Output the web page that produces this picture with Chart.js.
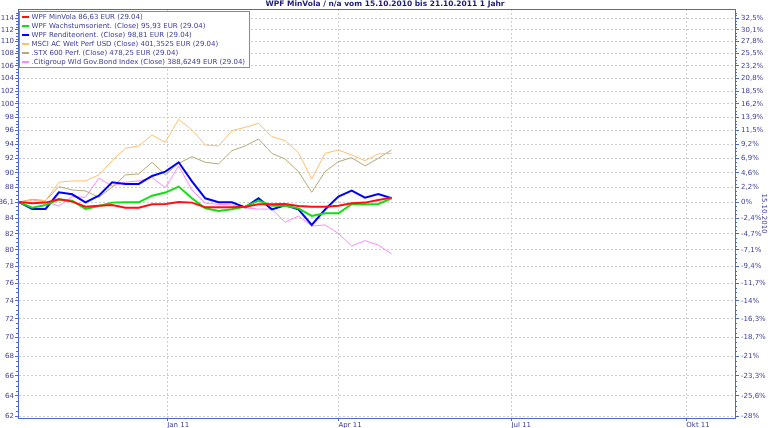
<!DOCTYPE html>
<html lang="de">
<head>
<meta charset="UTF-8">
<title>WPF MinVola</title>
<script src="https://cdn.jsdelivr.net/npm/chart.js@4.4.0/dist/chart.umd.min.js"></script>
<style>
  html, body { margin: 0; padding: 0; background: #fff; }
  #wrap { width: 770px; height: 428px; }
</style>
</head>
<body>
<div id="wrap"><canvas id="chart" width="770" height="428"></canvas></div>
<script>
// weekly closing dates (Fridays)
const startDate = '2010-10-15';
const weeks = [
  '2010-10-15', '2010-10-22', '2010-10-29', '2010-11-05', '2010-11-12', '2010-11-19',
  '2010-11-26', '2010-12-03', '2010-12-10', '2010-12-17', '2010-12-24', '2010-12-31',
  '2011-01-07', '2011-01-14', '2011-01-21', '2011-01-28', '2011-02-04', '2011-02-11',
  '2011-02-18', '2011-02-25', '2011-03-04', '2011-03-11', '2011-03-18', '2011-03-25',
  '2011-04-01', '2011-04-08', '2011-04-15', '2011-04-22', '2011-04-29'
];

// all series indexed to the first value (86,07)
const minVola = [86.07, 85.91, 86.0, 86.44, 86.13, 85.47, 85.6, 85.69, 85.34, 85.34, 85.78, 85.82, 86.09, 86.0, 85.38,
  85.38, 85.38, 85.47, 85.78, 85.78, 85.82, 85.56, 85.47, 85.47, 85.6, 85.91, 86.0, 86.35, 86.66];
const wachstum = [86.07, 85.34, 85.69, 86.44, 86.26, 85.17, 85.56, 86.0, 86.04, 86.04, 86.92, 87.33, 88.13, 86.57, 85.25,
  84.91, 85.12, 85.47, 86.26, 85.6, 85.6, 85.25, 84.26, 84.6, 84.6, 85.78, 85.78, 85.82, 86.57];
const rendite = [86.07, 85.17, 85.17, 87.37, 87.1, 86.04, 86.92, 88.72, 88.49, 88.49, 89.58, 90.18, 91.47, 88.85, 86.57,
  86.04, 86.04, 85.38, 86.57, 85.12, 85.65, 85.12, 83.11, 85.1, 86.79, 87.59, 86.66, 87.15, 86.57];
const msciWelt = [86.07, 86.35, 86.26, 88.72, 88.9, 88.9, 89.72, 91.7, 93.45, 93.78, 95.37, 94.31, 97.69, 96.1, 93.93,
  93.78, 96.0, 96.5, 97.09, 95.13, 94.55, 92.83, 89.17, 92.73, 93.21, 92.5, 91.7, 92.64, 92.73];
const stx600 = [86.07, 86.44, 86.26, 88.13, 87.68, 87.55, 86.7, 88.04, 89.72, 89.86, 91.47, 89.72, 91.33, 92.26, 91.47,
  91.24, 93.11, 93.78, 94.79, 92.73, 91.93, 90.18, 87.37, 90.18, 91.56, 92.12, 90.96, 92.03, 93.21];
const citiBond = [86.07, 86.35, 86.1, 85.56, 86.79, 86.7, 89.27, 88.2, 88.72, 88.9, 89.36, 88.0, 90.96, 87.68, 85.91,
  85.78, 85.69, 85.34, 85.15, 85.15, 83.45, 84.26, 82.98, 83.11, 82.05, 80.49, 81.14, 80.6, 79.51];

const seriesNames = [
  'WPF MinVola 86,63 EUR (29.04)',
  'WPF Wachstumsorient. (Close) 95,93 EUR (29.04)',
  'WPF Renditeorient. (Close) 98,81 EUR (29.04)',
  'MSCI AC Welt Perf USD (Close) 401,3525 EUR (29.04)',
  '.STX 600 Perf. (Close) 478,25 EUR (29.04)',
  '.Citigroup Wld Gov.Bond Index (Close) 388,6249 EUR (29.04)'
];
const seriesData = [minVola, wachstum, rendite, msciWelt, stx600, citiBond];
const seriesColors = ['#ff1010', '#10e010', '#0000ff', '#ffbf70', '#b4aa78', '#ff88ff'];
const seriesWidths = [2, 2, 2, 1, 1, 1];

const baseValue = 86.07;
const yTicks = [62, 64, 66, 68, 70, 72, 74, 76, 78, 80, 82, 84, 86.07, 88, 90, 92, 94, 96, 98,
  100, 102, 104, 106, 108, 110, 112, 114];
const xTickDates = ['2011-01-01', '2011-04-01', '2011-07-01', '2011-10-01'];
const xTickLabels = ['Jan 11', 'Apr 11', 'Jul 11', 'Okt 11'];

const axisBlue = '#4a6bc6';
const textBlue = '#3d3d9c';
const gridGrey = '#cdcdcd';

function dayOf(d) {
  return (Date.parse(d) - Date.parse(startDate)) / 86400000;
}
function fmtLeft(v) {
  return Number.isInteger(v) ? String(v) : v.toFixed(1).replace('.', ',');
}
function fmtRight(v) {
  let s = ((v / baseValue - 1) * 100).toFixed(1);
  if (s.endsWith('.0')) s = s.slice(0, -2);
  if (s === '-0') s = '0';
  return s.replace('.', ',') + '%';
}

// top frame line + minor ticks on the value axes
const frame = {
  id: 'frame',
  afterDraw(chart) {
    const {ctx, chartArea} = chart;
    const y = chart.scales.y;
    ctx.save();
    ctx.strokeStyle = axisBlue;
    ctx.lineWidth = 1;
    ctx.beginPath();
    ctx.moveTo(chartArea.left, chartArea.top + 0.5);
    ctx.lineTo(chartArea.right, chartArea.top + 0.5);
    for (let v = 62; v <= 115; v += 0.5) {
      if (yTicks.some(t => Math.abs(t - v) < 0.2)) continue;
      const py = Math.round(y.getPixelForValue(v)) + 0.5;
      ctx.moveTo(chartArea.left - 2, py);
      ctx.lineTo(chartArea.left, py);
      ctx.moveTo(chartArea.right, py);
      ctx.lineTo(chartArea.right + 2, py);
    }
    ctx.stroke();
    ctx.restore();
  }
};

// legend box inside the plot, top left
const legendBox = {
  id: 'legendBox',
  afterDraw(chart) {
    const {ctx, chartArea} = chart;
    const sets = chart.data.datasets;
    ctx.save();
    ctx.font = '7px "DejaVu Sans", Verdana, sans-serif';
    let w = 0;
    sets.forEach(ds => { w = Math.max(w, ctx.measureText(ds.label).width); });
    const x0 = chartArea.left + 1.5;
    const y0 = chartArea.top + 2.5;
    const rowH = 9;
    const textX = x0 + 12;
    const boxW = Math.round(textX - x0 + w + 4);
    const boxH = rowH * sets.length + 2;
    ctx.fillStyle = '#fff';
    ctx.fillRect(x0, y0, boxW, boxH);
    ctx.strokeStyle = '#8c8c8c';
    ctx.lineWidth = 1;
    ctx.strokeRect(x0, y0, boxW, boxH);
    ctx.textBaseline = 'middle';
    sets.forEach((ds, i) => {
      const cy = Math.round(y0 + 5 + i * rowH);
      ctx.strokeStyle = ds.borderColor;
      ctx.lineWidth = 2;
      ctx.beginPath();
      ctx.moveTo(x0 + 2.5, cy);
      ctx.lineTo(x0 + 9.5, cy);
      ctx.stroke();
      ctx.fillStyle = textBlue;
      ctx.fillText(ds.label, textX, cy + 0.5);
    });
    ctx.restore();
  }
};

Chart.defaults.font.family = '"DejaVu Sans", Verdana, sans-serif';
Chart.defaults.font.size = 7;
Chart.defaults.color = textBlue;

const yMin = 61.87;
const yMax = 115.63;

new Chart(document.getElementById('chart'), {
  type: 'line',
  data: {
    datasets: seriesData.map((vals, i) => ({
      label: seriesNames[i],
      data: weeks.map((d, j) => ({ x: dayOf(d), y: vals[j] })),
      borderColor: seriesColors[i],
      borderWidth: seriesWidths[i],
      pointRadius: 0,
      tension: 0,
      fill: false
    }))
  },
  options: {
    responsive: false,
    animation: false,
    events: [],
    layout: { padding: 0 },
    plugins: {
      legend: { display: false },
      tooltip: { enabled: false },
      title: {
        display: true,
        text: 'WPF MinVola / n/a vom 15.10.2010 bis 21.10.2011 1 Jahr',
        color: '#1c1c78',
        font: { size: 7.5, weight: 'bold' },
        padding: { top: 0, bottom: 0 }
      }
    },
    scales: {
      x: {
        type: 'linear',
        min: -0.5,
        max: 376.6,
        afterBuildTicks: s => { s.ticks = xTickDates.map(d => ({ value: dayOf(d) })); },
        afterFit: s => { s.height = 10; },
        ticks: {
          autoSkip: false,
          maxRotation: 0,
          align: 'start',
          padding: 0,
          callback: (v, i) => xTickLabels[i]
        },
        grid: { color: gridGrey, tickColor: axisBlue, tickLength: 3, tickBorderDash: [] },
        border: { color: axisBlue, width: 1, dash: [2, 2] }
      },
      y: {
        type: 'logarithmic',
        position: 'left',
        min: yMin,
        max: yMax,
        afterBuildTicks: s => { s.ticks = yTicks.map(v => ({ value: v })); },
        afterFit: s => { s.width = 18; },
        ticks: { autoSkip: false, padding: 1, callback: v => fmtLeft(v) },
        grid: { color: gridGrey, tickColor: axisBlue, tickLength: 3, tickBorderDash: [] },
        border: { color: axisBlue, width: 1, dash: [2, 2] }
      },
      y2: {
        type: 'logarithmic',
        position: 'right',
        min: yMin,
        max: yMax,
        afterBuildTicks: s => { s.ticks = yTicks.map(v => ({ value: v })); },
        afterFit: s => { s.width = 35; },
        ticks: { autoSkip: false, padding: 2, callback: v => fmtRight(v) },
        grid: { drawOnChartArea: false, tickColor: axisBlue, tickLength: 4, tickBorderDash: [] },
        border: { color: axisBlue, width: 1 },
        title: {
          display: true,
          text: '15.10.2010',
          color: textBlue,
          font: { size: 7 },
          padding: { top: 2, bottom: 0 }
        }
      }
    }
  },
  plugins: [frame, legendBox]
});
</script>
</body>
</html>
